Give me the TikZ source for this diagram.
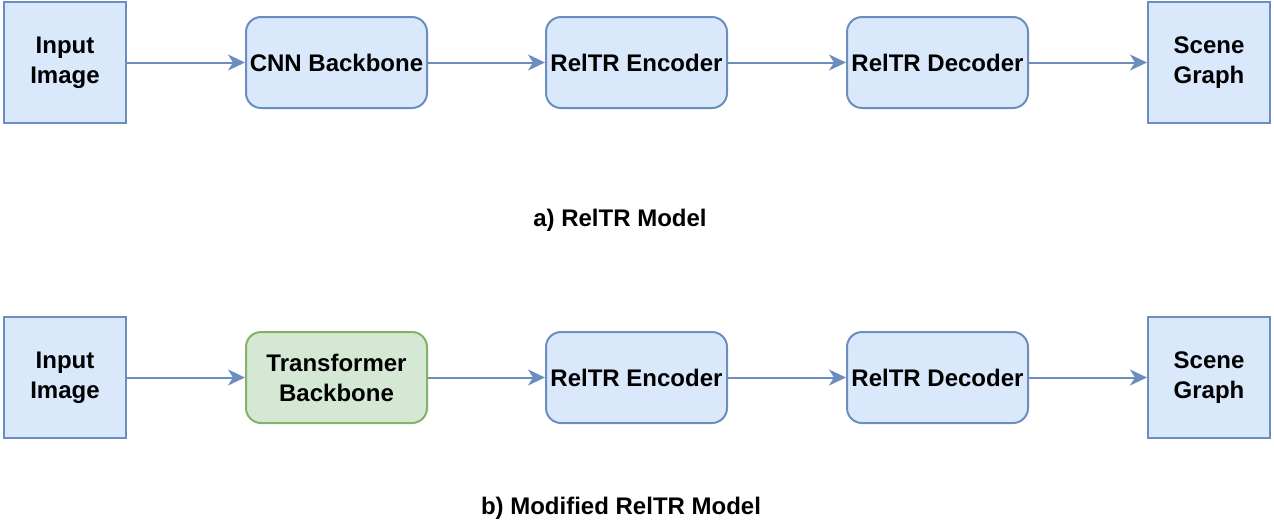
\documentclass[tikz,border=0pt]{standalone}
\usepackage{fontspec}
\setmainfont{Liberation Sans}
\usepackage{xcolor}
\usetikzlibrary{arrows.meta}

\definecolor{blueFill}{RGB}{218,232,252}
\definecolor{blueLine}{RGB}{108,142,191}
\definecolor{greenFill}{RGB}{213,232,212}
\definecolor{greenLine}{RGB}{130,179,102}

\tikzset{
  endbox/.style={draw=blueLine, fill=blueFill, line width=1pt, minimum width=61pt, minimum height=60.5pt, inner sep=0pt, align=center, font=\fontsize{12}{15}\selectfont\bfseries},
  stagebox/.style={endbox, rounded corners=7.5pt, minimum width=90.5pt, minimum height=45.5pt},
  newbox/.style={stagebox, draw=greenLine, fill=greenFill},
  flow/.style={draw=blueLine, line width=1pt, -{Stealth[length=8.5pt, width=8pt, inset=2.5pt]}},
  caption/.style={inner sep=0pt, font=\fontsize{12}{15}\selectfont\bfseries}
}

\begin{document}
\begin{tikzpicture}[x=0.5pt,y=0.5pt,yscale=-1,xscale=1]
\useasboundingbox (0,0) rectangle (1274,527);
                        % Row a
                        \node [endbox] (inA) at (65,62.5) {Input\\Image};
                        \node [stagebox] (cnnA) at (336.5,62.5) {CNN Backbone};
                        \node [stagebox] (encA) at (636.5,62.5) {RelTR Encoder};
                        \node [stagebox] (decA) at (937.5,62.5) {RelTR Decoder};
                        \node [endbox] (sgA) at (1209,62.5) {Scene\\Graph};
                        % Connectors a
                        \draw [flow] (inA) -- (cnnA);
                        \draw [flow] (cnnA) -- (encA);
                        \draw [flow] (encA) -- (decA);
                        \draw [flow] (decA) -- (sgA);
                        % Text Node
                        \node [caption] (capA) at (620,220) {a) RelTR Model};

                        % Row b
                        \node [endbox] (inB) at (65,377.5) {Input\\Image};
                        \node [newbox] (tfB) at (336.5,377.5) {Transformer\\Backbone};
                        \node [stagebox] (encB) at (636.5,377.5) {RelTR Encoder};
                        \node [stagebox] (decB) at (937.5,377.5) {RelTR Decoder};
                        \node [endbox] (sgB) at (1209,377.5) {Scene\\Graph};
                        % Connectors b
                        \draw [flow] (inB) -- (tfB);
                        \draw [flow] (tfB) -- (encB);
                        \draw [flow] (encB) -- (decB);
                        \draw [flow] (decB) -- (sgB);
                        % Text Node
                        \node [caption] (capB) at (621,508) {b) Modified RelTR Model};
\end{tikzpicture}
\end{document}
